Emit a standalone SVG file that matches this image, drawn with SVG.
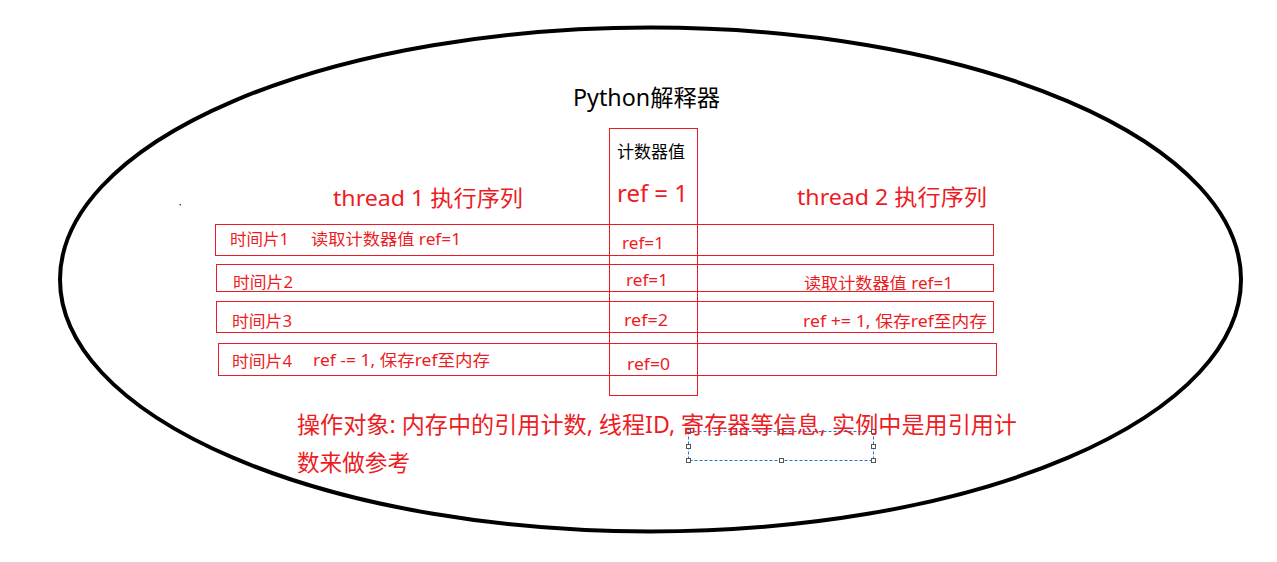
<svg xmlns="http://www.w3.org/2000/svg" width="1277" height="562" viewBox="0 0 1277 562">
<style>
text{font-family:"Noto Sans","Noto Sans CJK SC",sans-serif;}
.r{fill:#ed1c24;}
.k{fill:#000;}
.box{fill:none;stroke:#ed1c24;stroke-width:1;}
.h{fill:#fff;stroke:#555;stroke-width:1;}
</style>
<rect width="1277" height="562" fill="#fff"/>
<g id="interpreter">
<ellipse cx="650.5" cy="279.5" rx="590.5" ry="252" fill="none" stroke="#000" stroke-width="4"/>
<text class="k" x="573" y="106" font-size="23" textLength="147" lengthAdjust="spacingAndGlyphs">Python解释器</text>
</g>
<rect id="dot" x="179.5" y="204" width="1.5" height="1.5" fill="#555"/>
<g id="counter">
<rect class="box" x="609.5" y="128.5" width="88" height="267"/>
<text class="k" x="617" y="158" font-size="17" textLength="68" lengthAdjust="spacingAndGlyphs">计数器值</text>
<text class="r" x="617" y="202" font-size="24" textLength="71" lengthAdjust="spacingAndGlyphs">ref = 1</text>
</g>
<g id="thread1-title">
<text class="r" x="333" y="206" font-size="22" textLength="190" lengthAdjust="spacingAndGlyphs">thread 1 执行序列</text>
</g>
<g id="thread2-title">
<text class="r" x="797" y="205" font-size="22" textLength="190" lengthAdjust="spacingAndGlyphs">thread 2 执行序列</text>
</g>
<g id="slice1">
<rect class="box" x="215.5" y="224.5" width="778" height="31"/>
<text class="r" x="230" y="245" font-size="16" textLength="59" lengthAdjust="spacingAndGlyphs">时间片1</text>
<text class="r" x="311" y="245" font-size="16" textLength="150" lengthAdjust="spacingAndGlyphs">读取计数器值 ref=1</text>
<text class="r" x="622" y="249" font-size="16" textLength="42" lengthAdjust="spacingAndGlyphs">ref=1</text>
</g>
<g id="slice2">
<rect class="box" x="216.5" y="264.5" width="777" height="27"/>
<text class="r" x="233" y="288" font-size="16" textLength="60" lengthAdjust="spacingAndGlyphs">时间片2</text>
<text class="r" x="626" y="286" font-size="16" textLength="42" lengthAdjust="spacingAndGlyphs">ref=1</text>
<text class="r" x="804" y="289" font-size="16" textLength="149" lengthAdjust="spacingAndGlyphs">读取计数器值 ref=1</text>
</g>
<g id="slice3">
<rect class="box" x="216.5" y="301.5" width="777" height="31"/>
<text class="r" x="232" y="327" font-size="16" textLength="60" lengthAdjust="spacingAndGlyphs">时间片3</text>
<text class="r" x="624" y="326" font-size="16" textLength="44" lengthAdjust="spacingAndGlyphs">ref=2</text>
<text class="r" x="803" y="327" font-size="16" textLength="184" lengthAdjust="spacingAndGlyphs">ref += 1, 保存ref至内存</text>
</g>
<g id="slice4">
<rect class="box" x="218.5" y="343.5" width="778" height="32"/>
<text class="r" x="232" y="367" font-size="16" textLength="60" lengthAdjust="spacingAndGlyphs">时间片4</text>
<text class="r" x="313" y="366" font-size="16" textLength="177" lengthAdjust="spacingAndGlyphs">ref -= 1, 保存ref至内存</text>
<text class="r" x="627" y="370" font-size="16" textLength="43" lengthAdjust="spacingAndGlyphs">ref=0</text>
</g>
<g id="selection">
<rect x="688.5" y="431.5" width="185" height="29" fill="none" stroke="#1e78d4" stroke-width="1" stroke-dasharray="3 2"/>
<rect class="h" x="686.5" y="429.5" width="4" height="4"/>
<rect class="h" x="779.5" y="429.5" width="4" height="4"/>
<rect class="h" x="871.5" y="429.5" width="4" height="4"/>
<rect class="h" x="686.5" y="444.5" width="4" height="4"/>
<rect class="h" x="871.5" y="444.5" width="4" height="4"/>
<rect class="h" x="686.5" y="458.5" width="4" height="4"/>
<rect class="h" x="779.5" y="458.5" width="4" height="4"/>
<rect class="h" x="871.5" y="458.5" width="4" height="4"/>
</g>
<g id="note">
<text class="r" x="297" y="433" font-size="23" textLength="720" lengthAdjust="spacingAndGlyphs">操作对象: 内存中的引用计数, 线程ID, 寄存器等信息, 实例中是用引用计</text>
<text class="r" x="297" y="471" font-size="23" textLength="113" lengthAdjust="spacingAndGlyphs">数来做参考</text>
</g>
<g id="connectors"/>
</svg>
